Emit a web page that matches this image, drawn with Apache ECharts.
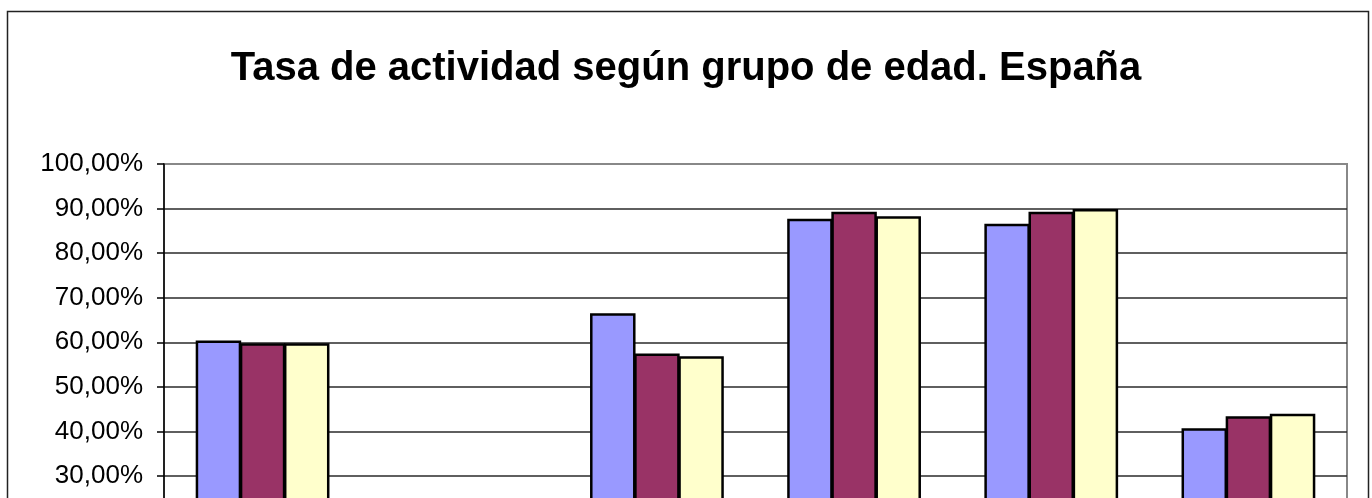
<!DOCTYPE html>
<html>
<head>
<meta charset="utf-8">
<script src="https://cdn.jsdelivr.net/npm/echarts@6/dist/echarts.min.js"></script>
<style>
html,body{margin:0;padding:0;overflow:hidden;background:#fff;}
#chart{width:1372px;height:820px;}
</style>
</head>
<body>
<div id="chart"></div>
<script>
const categories = ['Total', 'De 16 a 19 años', 'De 20 a 24 años', 'De 25 a 34 años', 'De 35 a 54 años', 'De 55 y más años'];
const seriesNames = ['2007', '2008', '2009'];
const values2007 = [60.4, 23.0, 66.5, 87.7, 86.6, 40.7];
const values2008 = [59.8, 21.5, 57.5, 89.3, 89.3, 43.4];
const values2009 = [59.8, 20.5, 56.9, 88.3, 89.9, 44.0];
const colors = ['#9999FF', '#993366', '#FFFFCC'];
const yTicks = {min: 0, max: 100, interval: 10};

const chart = echarts.init(document.getElementById('chart'), null, {renderer: 'canvas'});
const FONT = 'Liberation Sans, Arial, sans-serif';
const allValues = [values2007, values2008, values2009];
const nLines = Math.round((yTicks.max - yTicks.min) / yTicks.interval) + 1;
const splitColors = Array.from({length: nLines}, (_, i) => i === nLines - 1 ? '#888888' : '#2a2a2a');

chart.setOption({
  animation: false,
  backgroundColor: '#ffffff',
  title: {
    text: 'Tasa de actividad según grupo de edad. España',
    left: 'center',
    top: 44,
    textStyle: {fontFamily: FONT, fontSize: 40, fontWeight: 'bold', color: '#000'}
  },
  graphic: [{
    type: 'rect',
    shape: {x: 7.5, y: 11.5, width: 1361, height: 800},
    style: {fill: 'none', stroke: '#222', lineWidth: 1.5},
    silent: true,
    z: -1
  }],
  legend: {show: false},
  grid: {
    left: 164, top: 164, width: 1183, height: 445.8,
    show: true, borderColor: '#888', borderWidth: 2, backgroundColor: 'transparent'
  },
  xAxis: {
    type: 'category',
    data: categories,
    axisLine: {lineStyle: {color: '#000', width: 1.5}},
    axisTick: {show: false},
    axisLabel: {fontFamily: FONT, fontSize: 20, color: '#000'}
  },
  yAxis: {
    type: 'value',
    min: yTicks.min, max: yTicks.max, interval: yTicks.interval,
    axisLine: {show: true, lineStyle: {color: '#000', width: 1.5}},
    axisTick: {show: true, inside: false, length: 7, lineStyle: {color: '#000', width: 1.5}},
    axisLabel: {
      margin: 21,
      fontFamily: FONT, fontSize: 26, color: '#000',
      formatter: v => v.toFixed(2).replace('.', ',') + '%'
    },
    splitLine: {show: true, lineStyle: {color: splitColors, width: 1.5}}
  },
  series: seriesNames.map((name, i) => ({
    name: name,
    type: 'bar',
    data: allValues[i],
    barWidth: 45.5,
    barGap: '-3%',
    itemStyle: {color: colors[i], borderColor: '#000', borderWidth: 2.5}
  }))
});
</script>
</body>
</html>
